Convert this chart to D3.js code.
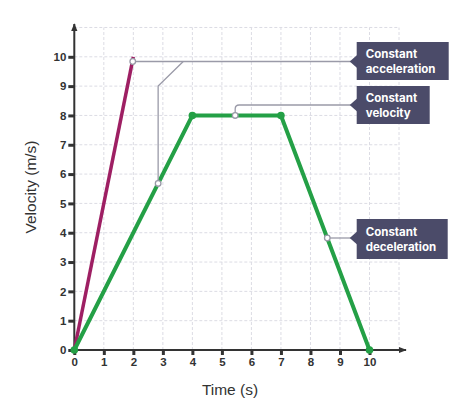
<!DOCTYPE html>
<html><head><meta charset="utf-8">
<script src="https://cdn.jsdelivr.net/npm/d3@7"></script>
<style>body{margin:0;background:#fff}svg{display:block}</style>
</head><body>
<svg id="c" width="462" height="399"></svg>
<script>
const xTicks = [0,1,2,3,4,5,6,7,8,9,10];
const yTicks = [0,1,2,3,4,5,6,7,8,9,10];
const accelT = [0, 2];
const accelV = [0, 10];
const motionT = [0, 4, 7, 10];
const motionV = [0, 8, 8, 0];
const labels = ["Constant acceleration", "Constant velocity", "Constant deceleration"];

const svg = d3.select("#c");
const x = d3.scaleLinear().domain([0, 10]).range([74.3, 369.5]);
const y = d3.scaleLinear().domain([0, 10]).range([350, 56.8]);
const ink = "#333";
const axFont = "Liberation Sans, Arial, sans-serif";

// grid
const gridVals = d3.range(1, 12);
svg.append("g").selectAll("line").data(gridVals).join("line")
  .attr("x1", d => x(d)).attr("x2", d => x(d)).attr("y1", y(0)).attr("y2", y(11))
  .attr("stroke", "#dcdce4").attr("stroke-width", 1).attr("stroke-dasharray", "3,2");
svg.append("g").selectAll("line").data(gridVals).join("line")
  .attr("y1", d => y(d)).attr("y2", d => y(d)).attr("x1", x(0)).attr("x2", x(11))
  .attr("stroke", "#dcdce4").attr("stroke-width", 1).attr("stroke-dasharray", "3,2");

// axes
const defs = svg.append("defs");
defs.append("marker").attr("id", "arr").attr("viewBox", "0 0 10 10").attr("refX", 9).attr("refY", 5)
  .attr("markerWidth", 4).attr("markerHeight", 4).attr("orient", "auto").attr("markerUnits", "strokeWidth")
  .append("path").attr("d", "M0,1L10,5L0,9Z").attr("fill", ink);
svg.append("line").attr("x1", x(0)).attr("x2", 406).attr("y1", y(0)).attr("y2", y(0))
  .attr("stroke", ink).attr("stroke-width", 2).attr("marker-end", "url(#arr)");
svg.append("line").attr("x1", x(0)).attr("x2", x(0)).attr("y1", y(0)).attr("y2", 24)
  .attr("stroke", ink).attr("stroke-width", 2).attr("marker-end", "url(#arr)");

const xAxis = d3.axisBottom(x).tickValues(xTicks).tickSize(5).tickPadding(3);
const gx = svg.append("g").attr("transform", `translate(0,${y(0)})`).call(xAxis);
gx.select(".domain").remove();
gx.selectAll(".tick line").attr("stroke", ink).attr("stroke-width", 3);
gx.selectAll(".tick text").attr("fill", ink).attr("font-family", axFont)
  .attr("font-size", 11.5).attr("font-weight", "bold");

const yAxis = d3.axisLeft(y).tickValues(yTicks).tickSize(6).tickPadding(2);
const gy = svg.append("g").attr("transform", `translate(${x(0)},0)`).call(yAxis);
gy.select(".domain").remove();
gy.selectAll(".tick line").attr("stroke", ink).attr("stroke-width", 3);
gy.selectAll(".tick text").attr("fill", ink).attr("font-family", axFont)
  .attr("font-size", 11.5).attr("font-weight", "bold");

svg.append("text").attr("x", 230).attr("y", 395).attr("text-anchor", "middle")
  .attr("font-family", axFont).attr("font-size", 15.5).attr("fill", ink).text("Time (s)");
svg.append("text").attr("transform", "translate(36,187) rotate(-90)").attr("text-anchor", "middle")
  .attr("font-family", axFont).attr("font-size", 15.5).attr("fill", ink).text("Velocity (m/s)");

// data lines
const line = d3.line().x(d => x(d[0])).y(d => y(d[1]));
const accel = accelT.map((t, i) => [t, accelV[i]]);
const motion = motionT.map((t, i) => [t, motionV[i]]);
svg.append("path").attr("d", line(accel)).attr("fill", "none").attr("stroke", "#9e1f63").attr("stroke-width", 3.5);
svg.append("path").attr("d", line(motion)).attr("fill", "none").attr("stroke", "#24a046")
  .attr("stroke-width", 4).attr("stroke-linejoin", "round");
svg.append("g").selectAll("circle").data(motion).join("circle")
  .attr("cx", d => x(d[0])).attr("cy", d => y(d[1])).attr("r", 3.8).attr("fill", "#24a046");

// annotation connectors
const gc = "#9a9aa8";
const boxX = 356.7;
const p1 = [1.98, 9.84], p1b = [2.84, 5.68], p2 = [5.45, 8], p3 = [8.57, 3.82];
const cg = svg.append("g").attr("fill", "none").attr("stroke", gc).attr("stroke-width", 1.3);
cg.append("path").attr("d", `M${x(p1[0])},${y(p1[1])}H${boxX - 6}`);
cg.append("path").attr("d", `M${x(p1b[0])},${y(p1b[1])}V${y(9)}L${x(3.69)},${y(p1[1])}`);
const yv = 105;
cg.append("path").attr("d", `M${x(p2[0])},${y(p2[1])}V${yv + 4}Q${x(p2[0])},${yv} ${x(p2[0]) + 4},${yv}H${boxX - 6}`);
cg.append("path").attr("d", `M${x(p3[0])},${y(p3[1])}H${boxX - 6}`);

svg.append("g").selectAll("circle").data([p1, p1b, p2, p3]).join("circle")
  .attr("cx", d => x(d[0])).attr("cy", d => y(d[1])).attr("r", 2.8)
  .attr("fill", "#fff").attr("stroke", gc).attr("stroke-width", 1.3);

// label boxes
const boxes = [
  {t: labels[0], y0: 42, h: 38, w: 92, py: y(p1[1])},
  {t: labels[1], y0: 86, h: 38, w: 73, py: yv},
  {t: labels[2], y0: 219, h: 40, w: 91, py: y(p3[1])}
];
const bc = "#4b4b69";
boxes.forEach(b => {
  const g = svg.append("g");
  g.append("rect").attr("x", boxX).attr("y", b.y0).attr("width", b.w).attr("height", b.h).attr("fill", bc);
  g.append("path").attr("d", `M${boxX + 1},${b.py - 7}L${boxX - 7},${b.py}L${boxX + 1},${b.py + 7}Z`).attr("fill", bc);
  const words = b.t.split(" ");
  const tx = g.append("text").attr("x", boxX + 9).attr("y", b.y0 + b.h / 2 - 3)
    .attr("font-family", "Inter, sans-serif").attr("font-size", 11.5).attr("font-weight", "bold").attr("fill", "#fff");
  tx.append("tspan").attr("x", boxX + 9).text(words[0]);
  tx.append("tspan").attr("x", boxX + 9).attr("dy", 15).text(words[1]);
});
</script>
</body></html>
